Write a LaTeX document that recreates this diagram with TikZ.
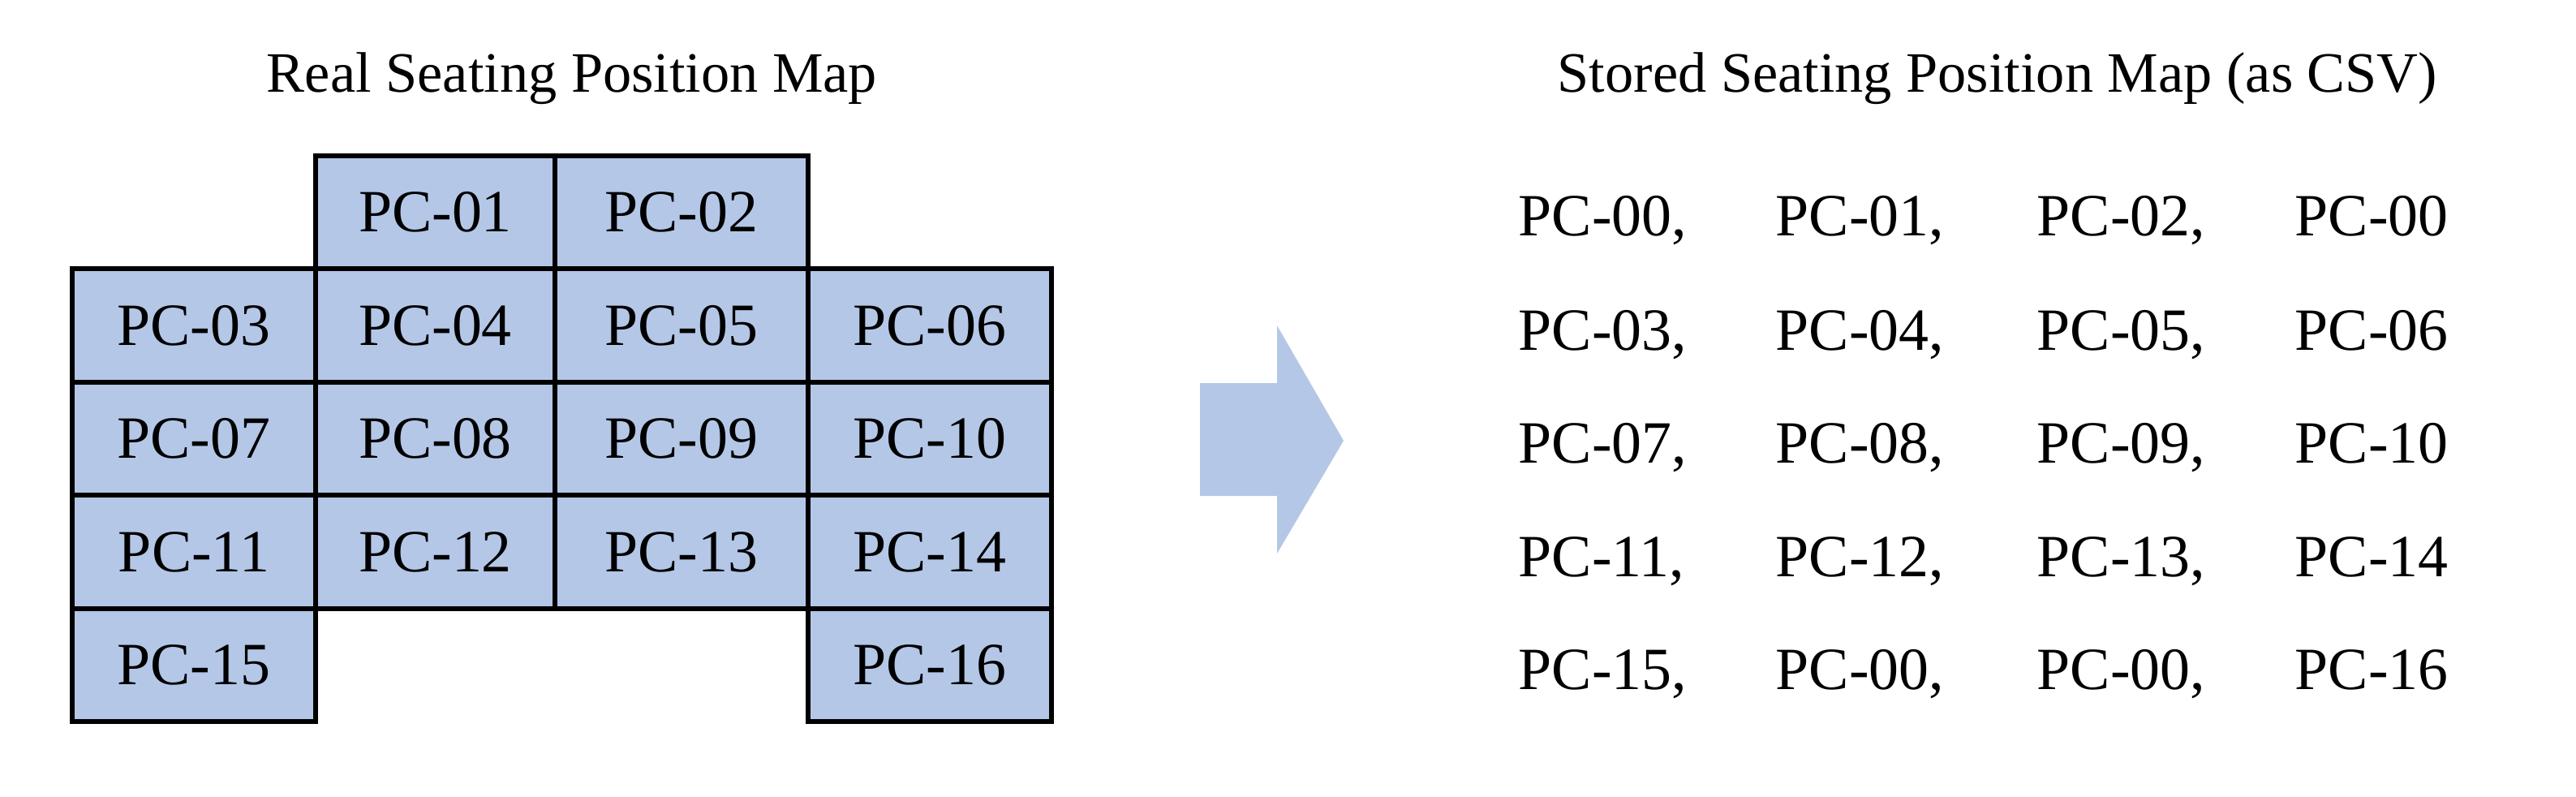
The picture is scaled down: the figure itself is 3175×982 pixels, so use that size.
\documentclass[tikz,border=0pt]{standalone}
\usepackage{fontspec}
\setmainfont{Liberation Serif}
\definecolor{cellblue}{RGB}{180,199,231}
\begin{document}
\begin{tikzpicture}[x=0.01cm,y=-0.01cm,
  cell/.style={draw=black,fill=cellblue,line width=1.8pt},
  lbl/.style={font=\fontsize{21}{24}\selectfont,anchor=base west,inner sep=0pt},
  ttl/.style={font=\fontsize{20}{23}\selectfont,anchor=base,inner sep=0pt}]
\useasboundingbox (0,0) rectangle (3175,982);
\foreach \n/\xl/\yt/\xr/\yb/\t in {
  c01/389/192/684/331/PC-01, c02/684/192/996/331/PC-02,
  c03/89/331/389/471/PC-03, c04/389/331/684/471/PC-04, c05/684/331/996/471/PC-05, c06/996/331/1296/471/PC-06,
  c07/89/471/389/610/PC-07, c08/389/471/684/610/PC-08, c09/684/471/996/610/PC-09, c10/996/471/1296/610/PC-10,
  c11/89/610/389/750/PC-11, c12/389/610/684/750/PC-12, c13/684/610/996/750/PC-13, c14/996/610/1296/750/PC-14,
  c15/89/750/389/889/PC-15, c16/996/750/1296/889/PC-16}{
  \draw[cell] (\xl,\yt) rectangle (\xr,\yb);
  \node[font=\fontsize{21}{24}\selectfont,inner sep=0pt] (\n) at ({(\xl+\xr)/2},{(\yt+\yb)/2}) {\t};
}
\node[ttl] (t1) at (705,114) {Real Seating Position Map};
\node[ttl] (t2) at (2462,114) {Stored Seating Position Map (as CSV)};
\fill[cellblue] (1479,472) -- (1574,472) -- (1574,401) -- (1656,543) -- (1574,682) -- (1574,611) -- (1479,611) -- cycle;
\foreach \r/\y in {0/291,1/431,2/570,3/710,4/849}{
  \foreach \c/\x in {0/1871,1/2188,2/2510,3/2828}{
    \coordinate (p\r\c) at (\x,\y);
  }
}
\node[lbl] (s00) at (p00) {PC-00,}; \node[lbl] (s01) at (p01) {PC-01,}; \node[lbl] (s02) at (p02) {PC-02,}; \node[lbl] (s03) at (p03) {PC-00};
\node[lbl] (s10) at (p10) {PC-03,}; \node[lbl] (s11) at (p11) {PC-04,}; \node[lbl] (s12) at (p12) {PC-05,}; \node[lbl] (s13) at (p13) {PC-06};
\node[lbl] (s20) at (p20) {PC-07,}; \node[lbl] (s21) at (p21) {PC-08,}; \node[lbl] (s22) at (p22) {PC-09,}; \node[lbl] (s23) at (p23) {PC-10};
\node[lbl] (s30) at (p30) {PC-11,}; \node[lbl] (s31) at (p31) {PC-12,}; \node[lbl] (s32) at (p32) {PC-13,}; \node[lbl] (s33) at (p33) {PC-14};
\node[lbl] (s40) at (p40) {PC-15,}; \node[lbl] (s41) at (p41) {PC-00,}; \node[lbl] (s42) at (p42) {PC-00,}; \node[lbl] (s43) at (p43) {PC-16};
\end{tikzpicture}
\end{document}
